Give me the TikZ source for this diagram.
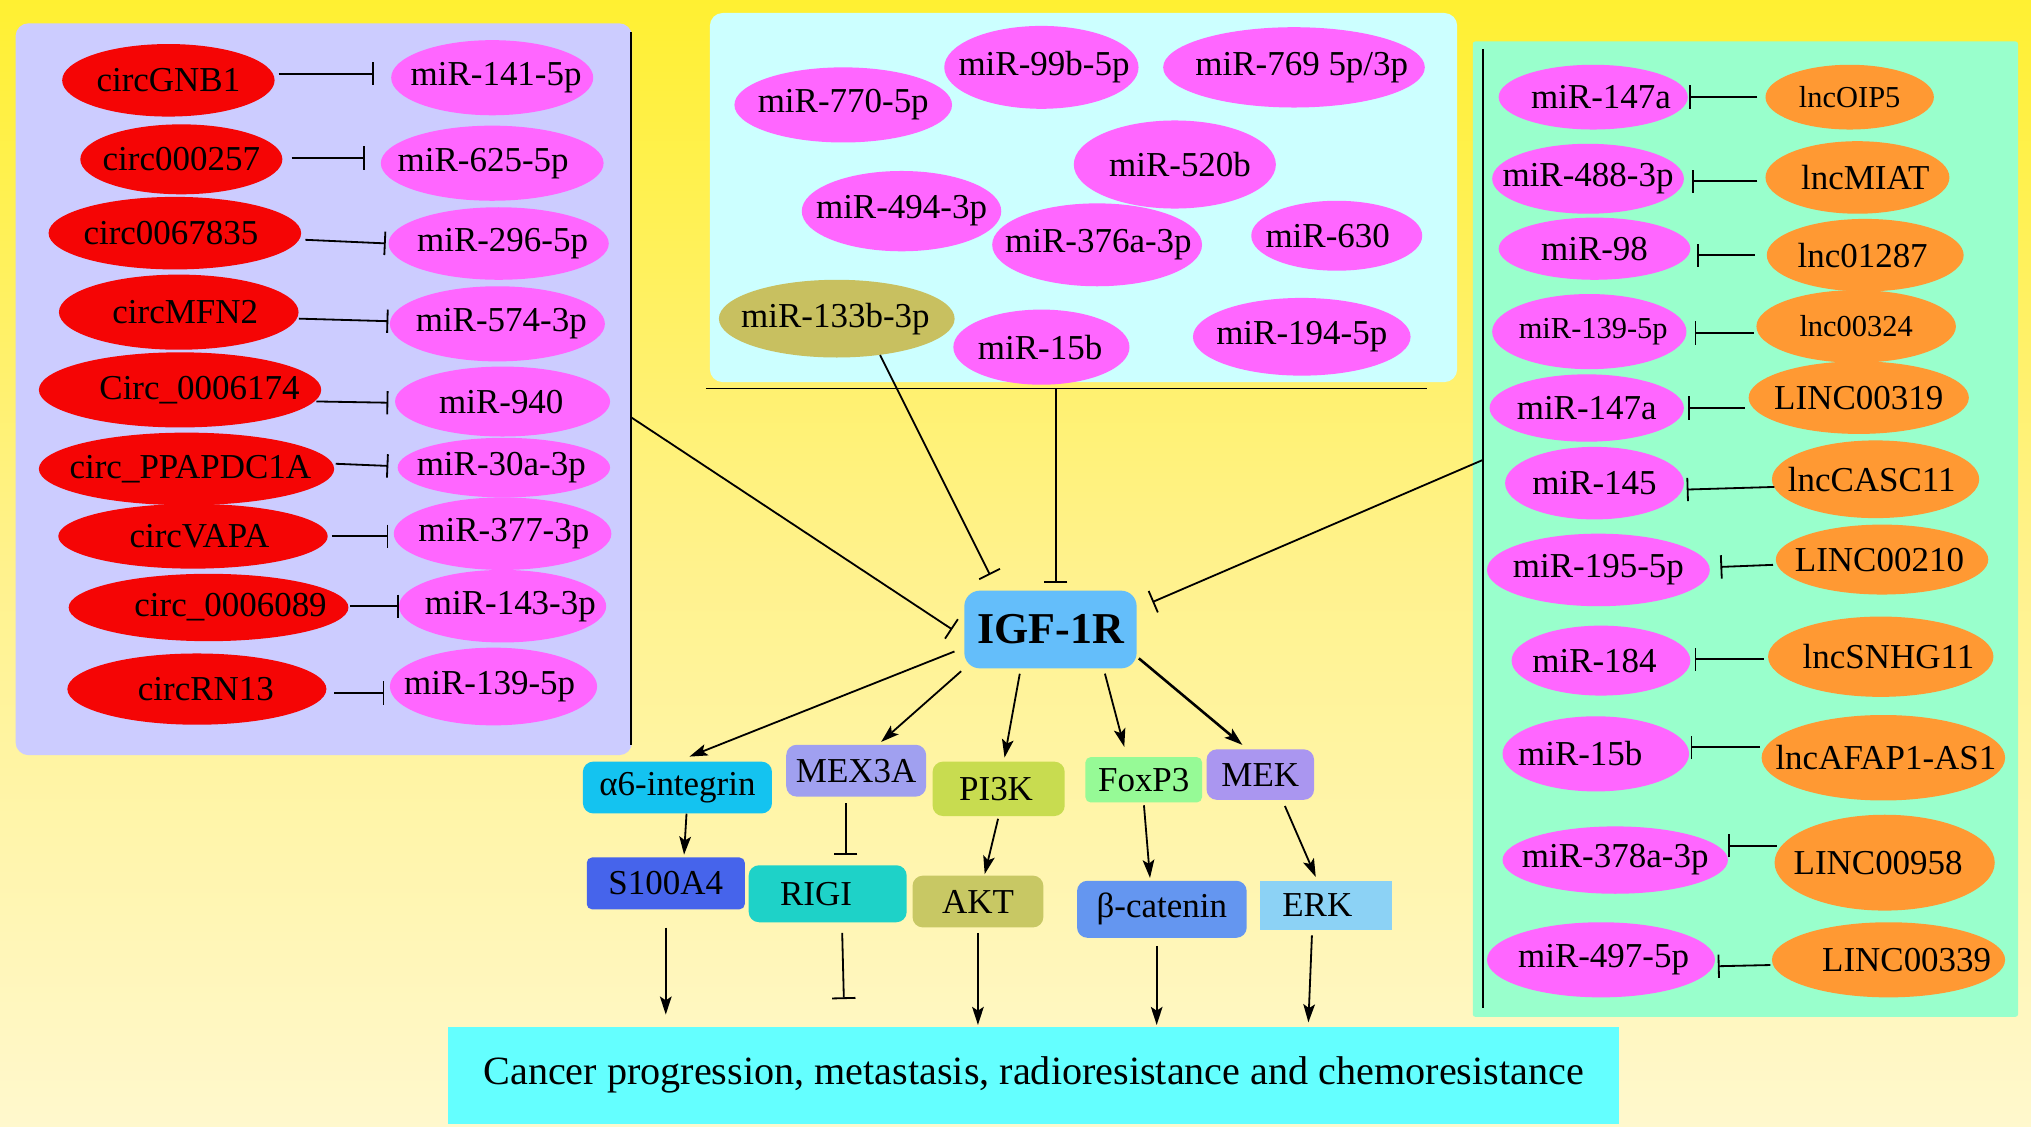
\documentclass[tikz,border=0pt]{standalone}
\usepackage{fontspec}
\setmainfont{Liberation Serif}
\usetikzlibrary{arrows.meta,shapes.geometric}
\definecolor{bgA}{RGB}{255,254,242}
\definecolor{bgB}{RGB}{255,248,205}
\definecolor{bgC}{RGB}{255,242,140}
\definecolor{bgD}{RGB}{255,240,50}
\definecolor{bgE}{RGB}{255,240,0}
\definecolor{lavP}{RGB}{204,204,255}
\definecolor{cyaP}{RGB}{204,255,255}
\definecolor{minP}{RGB}{153,255,204}
\definecolor{redE}{RGB}{245,5,5}
\definecolor{pinkE}{RGB}{255,102,255}
\definecolor{orgE}{RGB}{255,153,51}
\definecolor{oliE}{RGB}{200,192,96}
\definecolor{igfC}{RGB}{100,190,250}
\definecolor{a6C}{RGB}{20,195,240}
\definecolor{mexC}{RGB}{160,160,240}
\definecolor{pikC}{RGB}{200,220,80}
\definecolor{foxC}{RGB}{150,250,150}
\definecolor{mekC}{RGB}{170,150,240}
\definecolor{s1C}{RGB}{70,100,235}
\definecolor{rigC}{RGB}{30,210,200}
\definecolor{aktC}{RGB}{200,200,100}
\definecolor{betC}{RGB}{100,150,240}
\definecolor{erkC}{RGB}{140,210,245}
\definecolor{outC}{RGB}{100,255,255}
\pgfdeclareverticalshading{bgsh}{100bp}{color(0bp)=(bgA); color(25bp)=(bgB); color(50bp)=(bgC); color(75bp)=(bgD); color(100bp)=(bgE)}
\newcommand{\fsz}[1]{\fontsize{#1}{#1}\selectfont}
\newcommand{\enode}[7]{\node[#1,minimum width=#4,minimum height=#5] (#2) at (#3) {\makebox[0pt]{\kern#6pt #7}};}
\begin{document}
\begin{tikzpicture}[x=1pt,y=-1pt,
  elb/.style={ellipse, inner sep=0pt, font=\fsz{27}},
  circE/.style={elb, fill=redE},
  mirE/.style={elb, fill=pinkE},
  lncE/.style={elb, fill=orgE},
  oliE/.style={elb, fill=oliE},
  bx/.style={rectangle, rounded corners=8pt, inner sep=0pt, font=\fsz{27}},
  inh/.style={-{Bar[width=18pt]}, line width=1.4pt},
  act/.style={-{Stealth[length=14pt,width=9pt,inset=3pt]}, line width=1.4pt},
  brk/.style={line width=1.4pt}]
\useasboundingbox (0,0) rectangle (1568,870);
\shade[shading=bgsh] (0,0) rectangle (1568,870);
% panels
\fill[lavP, rounded corners=10pt] (12,18) rectangle (488,583);
\fill[cyaP, rounded corners=10pt] (548,10) rectangle (1125,295);
\fill[minP, rounded corners=2pt] (1137,32) rectangle (1558,785);
\coordinate (lTop) at (487,25);
\coordinate (lBot) at (487,575);
\coordinate (lMid) at (487,322);
\coordinate (tL) at (545,300);
\coordinate (tR) at (1102,300);
\coordinate (tMid) at (815,300);
\coordinate (rTop) at (1145,38);
\coordinate (rBot) at (1145,778);
\coordinate (rMid) at (1145,355);
\draw[brk] (lTop) -- (lBot);
\draw[brk] (tL) -- (tR);
\draw[brk] (rTop) -- (rBot);
% left circ
\enode{circE}{c1}{130,62}{164}{56}{0}{circGNB1}
\enode{circE}{c2}{140,123}{156}{54}{0}{circ000257}
\enode{circE}{c3}{135,180}{195}{56}{-6}{circ0067835}
\enode{circE}{c4}{138,241}{185}{58}{10}{circMFN2}
\enode{circE}{c5}{139,301}{218}{58}{30}{Circ\_0006174}
\enode{circE}{c6}{144,362}{228}{56}{6}{circ\_PPAPDC1A}
\enode{circE}{c7}{149,414}{208}{50}{10}{circVAPA}
\enode{circE}{c8}{161,469}{216}{52}{34}{circ\_0006089}
\enode{circE}{c9}{152,532}{200}{55}{14}{circRN13}
% left mir
\enode{mirE}{m1}{380,60}{156}{58}{6}{miR-141-5p}
\enode{mirE}{m2}{380,126}{172}{58}{-14}{miR-625-5p}
\enode{mirE}{m3}{385,188}{170}{56}{6}{miR-296-5p}
\enode{mirE}{m4}{384,250}{166}{58}{6}{miR-574-3p}
\enode{mirE}{m5}{388,310}{166}{54}{-2}{miR-940}
\enode{mirE}{m6}{389,361}{164}{46}{-4}{miR-30a-3p}
\enode{mirE}{m7}{388,412}{168}{56}{2}{miR-377-3p}
\enode{mirE}{m8}{388,468}{160}{56}{12}{miR-143-3p}
\enode{mirE}{m9}{381,530}{160}{60}{-6}{miR-139-5p}
% top panel
\enode{mirE}{t1}{651,81}{168}{58}{0}{miR-770-5p}
\enode{mirE}{t2}{804,52}{150}{64}{4}{miR-99b-5p}
\enode{mirE}{t3}{999,52}{202}{62}{12}{miR-769 5p/3p}
\enode{mirE}{t4}{907,127}{156}{68}{8}{miR-520b}
\enode{mirE}{t5}{696,163}{154}{62}{0}{miR-494-3p}
\enode{mirE}{t6}{847,189}{162}{64}{2}{miR-376a-3p}
\enode{mirE}{t7}{1032,182}{132}{54}{-14}{miR-630}
\enode{oliE}{t8}{646,246}{182}{60}{-2}{miR-133b-3p}
\enode{mirE}{t9}{804,268}{136}{58}{-2}{miR-15b}
\enode{mirE}{t10}{1005,260}{168}{60}{0}{miR-194-5p}
% right panel mir
\enode{mirE}{r1}{1230,75}{146}{50}{12}{miR-147a}
\enode{mirE}{r2}{1226,138}{148}{54}{0}{miR-488-3p}
\enode{mirE}{r3}{1231,192}{148}{48}{0}{miR-98}
\enode{mirE,font=\fsz{23.5}}{r4}{1227,256}{150}{58}{6}{miR-139-5p}
\enode{mirE}{r5}{1225,315}{150}{52}{0}{miR-147a}
\enode{mirE}{r6}{1231,373}{138}{56}{0}{miR-145}
\enode{mirE}{r7}{1234,440}{172}{56}{0}{miR-195-5p}
\enode{mirE}{r8}{1236,510}{138}{54}{-10}{miR-184}
\enode{mirE}{r9}{1232,582}{144}{58}{-24}{miR-15b}
\enode{mirE}{r10}{1247,664}{174}{52}{0}{miR-378a-3p}
\enode{mirE}{r11}{1236,741}{176}{58}{4}{miR-497-5p}
% right panel lnc
\enode{lncE,font=\fsz{23.5}}{l1}{1428,75}{130}{50}{0}{lncOIP5}
\enode{lncE}{l2}{1434,137}{142}{56}{12}{lncMIAT}
\enode{lncE}{l3}{1440,197}{152}{56}{-4}{lnc01287}
\enode{lncE,font=\fsz{23.5}}{l4}{1433,252}{154}{56}{0}{lnc00324}
\enode{lncE}{l5}{1435,307}{170}{56}{0}{LINC00319}
\enode{lncE}{l6}{1448,370}{160}{60}{-6}{lncCASC11}
\enode{lncE}{l7}{1453,432}{164}{54}{-4}{LINC00210}
\enode{lncE}{l8}{1452,507}{174}{62}{12}{lncSNHG11}
\enode{lncE}{l9}{1454,585}{188}{66}{4}{lncAFAP1-AS1}
\enode{lncE}{l10}{1455,666}{170}{74}{-10}{LINC00958}
\enode{lncE}{l11}{1458,741}{180}{58}{28}{LINC00339}
% left inhibitions
\draw[inh, shorten <=3pt, shorten >=13pt] ([yshift=5]c1.east) -- ([yshift=3]m1.west);
\draw[inh, shorten <=7pt, shorten >=12pt] ([yshift=1]c2.east) -- ([yshift=4]m2.west);
\draw[inh, shorten <=3pt, shorten >=2pt] ([yshift=-5]c3.east) -- ([yshift=0]m3.west);
\draw[inh, shorten <=0pt, shorten >=1pt] ([yshift=-5]c4.east) -- ([yshift=2]m4.west);
\draw[inh, shorten <=-4pt, shorten >=5pt] ([yshift=-9]c5.east) -- ([yshift=-1]m5.west);
\draw[inh, shorten <=1pt, shorten >=7pt] ([yshift=4]c6.east) -- ([yshift=1]m6.west);
\draw[inh, shorten <=3pt, shorten >=4pt] ([yshift=0]c7.east) -- ([yshift=-2]m7.west);
\draw[inh, shorten <=1pt, shorten >=0pt] ([yshift=1]c8.east) -- ([yshift=0]m8.west);
\draw[inh, shorten <=6pt, shorten >=4pt] ([yshift=-3]c9.east) -- ([yshift=-5]m9.west);
% right inhibitions
\draw[inh, shorten <=6pt, shorten >=1pt] ([yshift=0]l1.west) -- ([yshift=0]r1.east);
\draw[inh, shorten <=6pt, shorten >=6pt] ([yshift=-3]l2.west) -- ([yshift=-2]r2.east);
\draw[inh, shorten <=9pt, shorten >=5pt] ([yshift=0]l3.west) -- ([yshift=-5]r3.east);
\draw[inh, shorten <=2pt, shorten >=6pt] ([yshift=-5]l4.west) -- ([yshift=-1]r4.east);
\draw[inh, shorten <=3pt, shorten >=3pt] ([yshift=-8]l5.west) -- ([yshift=0]r5.east);
\draw[inh, shorten <=-2pt, shorten >=2pt] ([yshift=-6]l6.west) -- ([yshift=-5]r6.east);
\draw[inh, shorten <=2pt, shorten >=8pt] ([yshift=-4]l7.west) -- ([yshift=2]r7.east);
\draw[inh, shorten <=3pt, shorten >=3pt] ([yshift=-2]l8.west) -- ([yshift=1]r8.east);
\draw[inh, shorten <=1pt, shorten >=1pt] ([yshift=8]l9.west) -- ([yshift=5]r9.east);
\draw[inh, shorten <=-2pt, shorten >=0pt] ([yshift=13]l10.west) -- ([yshift=11]r10.east);
\draw[inh, shorten <=1pt, shorten >=2pt] ([yshift=-4]l11.west) -- ([yshift=-5]r11.east);
% center
\node[bx, rounded corners=12pt, fill=igfC, minimum width=133, minimum height=60, font=\fsz{34}\bfseries] (igf) at (811,486) {IGF-1R};
\node[bx, fill=a6C, minimum width=146, minimum height=40] (a6) at (523,608) {α6-integrin};
\node[bx, fill=mexC, minimum width=108, minimum height=40] (mex) at (661,595) {MEX3A};
\node[bx, fill=pikC, minimum width=102, minimum height=42] (pik) at (771,609) {\makebox[0pt]{\kern-4pt PI3K}};
\node[bx, fill=foxC, rounded corners=4pt, minimum width=90, minimum height=35] (fox) at (883,602) {FoxP3};
\node[bx, fill=mekC, minimum width=83, minimum height=39] (mek) at (973,598) {MEK};
\node[bx, fill=s1C, rounded corners=4pt, minimum width=122, minimum height=40] (s100) at (514,682) {S100A4};
\node[bx, fill=rigC, minimum width=122, minimum height=44] (rigi) at (639,690) {\makebox[0pt]{\kern-18pt RIGI}};
\node[bx, fill=aktC, minimum width=101, minimum height=40] (akt) at (755,696) {AKT};
\node[bx, fill=betC, minimum width=131, minimum height=44] (beta) at (897,702) {β-catenin};
\node[bx, fill=erkC, rounded corners=0pt, minimum width=102, minimum height=38] (erk) at (1024,699) {\makebox[0pt]{\kern-14pt ERK}};
\node[bx, fill=outC, rounded corners=0pt, minimum width=904, minimum height=75, font=\fsz{31}] (out) at (798,830) {Cancer progression, metastasis, radioresistance and chemoresistance};
% inhibitions into IGF-1R
\draw[inh, shorten >=11pt] (lMid) -- ([yshift=-6]igf.west);
\draw[inh] (t8.320) -- ([shift={(20,-12)}]igf.north west);
\coordinate (tEnd) at (tMid |- igf.north);
\draw[inh, shorten >=6pt] (tMid) -- (tEnd);
\draw[inh] (rMid) -- ([shift={(12,9)}]igf.north east);
% activations out of IGF-1R
\draw[act, shorten <=8pt, shorten >=10pt] ([yshift=-14]igf.west) -- (a6.north);
\draw[act, shorten <=3pt, shorten >=3pt] (igf.south west) -- ([xshift=17]mex.north);
\draw[act, shorten <=4pt, shorten >=3pt] ([xshift=-23]igf.south) -- ([xshift=4]pik.north);
\draw[act, shorten <=4pt, shorten >=8pt] ([xshift=41]igf.south) -- ([xshift=-13]fox.north);
\draw[act, line width=2pt, shorten <=2pt, shorten >=5pt] ([yshift=-21]igf.east) -- ([xshift=-10]mek.north);
% second to third row
\draw[act, shorten >=2pt] ([xshift=7]a6.south) -- ([xshift=14]s100.north);
\draw[inh, shorten <=5pt, shorten >=8pt] ([xshift=-8]mex.south) -- ([xshift=14]rigi.north);
\draw[act, shorten <=2pt, shorten >=1pt] (pik.south) -- ([xshift=5]akt.north);
\draw[act, shorten <=2pt, shorten >=2pt] (fox.south) -- ([xshift=-9]beta.north);
\draw[act, shorten <=5pt, shorten >=3pt] ([xshift=17]mek.south) -- ([xshift=-7]erk.north);
% third row to outcome
\coordinate (sA) at (s100.south);
\coordinate (sB) at ([xshift=11]rigi.south);
\coordinate (sB2) at ([xshift=13]rigi.south);
\coordinate (sC) at (akt.south);
\coordinate (sD) at ([xshift=-4]beta.south);
\coordinate (sE) at ([xshift=-11]erk.south);
\coordinate (sE2) at ([xshift=-14]erk.south);
\draw[act, shorten <=14pt, shorten >=9pt] (sA) -- (sA |- out.north);
\draw[inh, shorten <=8pt, shorten >=21pt] (sB) -- (sB2 |- out.north);
\draw[act, shorten <=4pt, shorten >=1pt] (sC) -- (sC |- out.north);
\draw[act, shorten <=6pt, shorten >=1pt] (sD) -- (sD |- out.north);
\draw[act, shorten <=4pt, shorten >=3pt] (sE) -- (sE2 |- out.north);
\end{tikzpicture}
\end{document}
